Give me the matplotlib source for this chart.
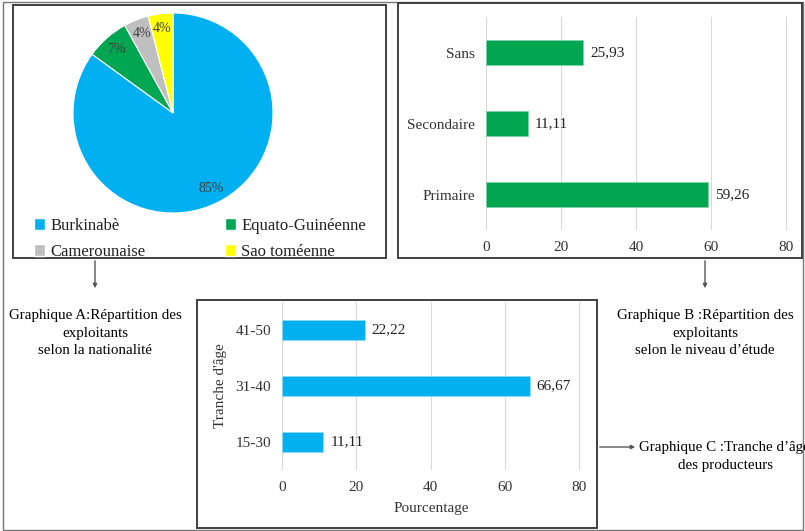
import matplotlib
matplotlib.use('Agg')
import matplotlib.pyplot as plt
from matplotlib.patches import Rectangle, Patch

plt.rcParams['font.family'] = ['Liberation Serif', 'DejaVu Serif']

# Graphique A : nationalite
nationalites = ['Burkinabè', 'Equato-Guinéenne', 'Camerounaise', 'Sao toméenne']
parts_nat = [85, 7, 4, 4]
couleurs_nat = ['#00B0F0', '#00A651', '#BFBFBF', '#FFFF00']

# Graphique B : niveau d'etude
niveaux = ['Primaire', 'Secondaire', 'Sans']
parts_niveau = [59.26, 11.11, 25.93]

# Graphique C : tranche d'age
tranches = ['15-30', '31-40', '41-50']
parts_age = [11.11, 66.67, 22.22]

W, H = 805, 531
fig = plt.figure(figsize=(W / 100, H / 100), dpi=100)


def fx(px):
    return px / W


def fy(py):
    return 1 - py / H


def box(x0, y0, x1, y1, color='#404040', lw=1.4):
    fig.patches.append(Rectangle((fx(x0), fy(y1)), fx(x1 - x0), (y1 - y0) / H,
                                 transform=fig.transFigure, fill=False,
                                 edgecolor=color, linewidth=lw))


def arrow(x0, y0, x1, y1):
    fig.add_artist(matplotlib.patches.FancyArrowPatch(
        (fx(x0), fy(y0)), (fx(x1), fy(y1)), transform=fig.transFigure,
        arrowstyle='-|>', mutation_scale=6, color='#555555', linewidth=1.0))


def fmt(v):
    return f'{v:.2f}'.replace('.', ',')


# cadres
box(3, 2, 803, 530, color='#777777', lw=1.0)
box(13, 5, 386, 258)
box(398, 3, 802, 258)
box(197, 300, 597, 528)

# --- A : camembert
ax_a = fig.add_axes([fx(72), fy(214), fx(202), 202 / H])
wedges, texts, autotexts = ax_a.pie(
    parts_nat, colors=couleurs_nat, startangle=90, counterclock=False,
    autopct='%1.0f%%', pctdistance=0.85,
    wedgeprops=dict(edgecolor='white', linewidth=0.8),
    textprops=dict(fontsize=10, color='#404040'))
ax_a.set_xlim(-1.01, 1.01)
ax_a.set_ylim(-1.01, 1.01)

handles = [Patch(facecolor=c, edgecolor='white') for c in couleurs_nat]
order = [0, 2, 1, 3]
fig.legend([handles[i] for i in order], [nationalites[i] for i in order],
           ncol=2, loc='upper left', bbox_to_anchor=(fx(22), fy(206)),
           frameon=False, fontsize=12, handlelength=0.7, handleheight=0.7,
           handletextpad=0.3, columnspacing=4.75, labelspacing=0.6,
           borderpad=0.2, labelcolor='#222222')

# --- B : niveau d'etude
ax_b = fig.add_axes([fx(486), fy(230), fx(302), 213 / H])
bars_b = ax_b.barh(niveaux, parts_niveau, height=0.36, color='#00A651',
                   edgecolor='#7fd3a8', linewidth=0.6, zorder=3)
ax_b.bar_label(bars_b, labels=[fmt(v) for v in parts_niveau], padding=5,
               fontsize=11, color='#222222')

# --- C : tranche d'age
ax_c = fig.add_axes([fx(282), fy(470), fx(299), 168 / H])
bars_c = ax_c.barh(tranches, parts_age, height=0.35, color='#00B0F0',
                   edgecolor='#8fdcf8', linewidth=0.6, zorder=3)
ax_c.bar_label(bars_c, labels=[fmt(v) for v in parts_age], padding=5,
               fontsize=11, color='#222222')
ax_c.set_xlabel('Pourcentage', fontsize=11, color='#333333', labelpad=6)
ax_c.set_ylabel("Tranche d'âge", fontsize=11, color='#333333', labelpad=6)

for ax in (ax_b, ax_c):
    ax.set_xlim(0, 80.5)
    ax.set_ylim(-0.5, 2.5)
    ax.set_xticks([0, 20, 40, 60, 80])
    ax.grid(axis='x', color='#D9D9D9', linewidth=0.8, zorder=0)
    for s in ax.spines.values():
        s.set_visible(False)
    ax.tick_params(length=0, labelsize=11, colors='#333333', pad=8)

# fleches et legendes
arrow(95, 258, 95, 291)
arrow(705, 258, 705, 291)
arrow(597, 447, 638, 447)

fig.text(fx(95), fy(333), 'Graphique A:Répartition des\nexploitants\nselon la nationalité',
         ha='center', va='center', fontsize=10.8, linespacing=1.45)
fig.text(fx(705), fy(333), 'Graphique B :Répartition des\nexploitants\nselon le niveau d\u2019étude',
         ha='center', va='center', fontsize=10.8, linespacing=1.45)
# coupe au bord droit comme dans l'original
fig.text(fx(639), fy(447), 'Graphique C :Tranche d\u2019âge',
         ha='left', va='center', fontsize=10.8)
fig.text(fx(725), fy(466), 'des producteurs',
         ha='center', va='center', fontsize=10.8)

fig.savefig('out.png', dpi=100)
